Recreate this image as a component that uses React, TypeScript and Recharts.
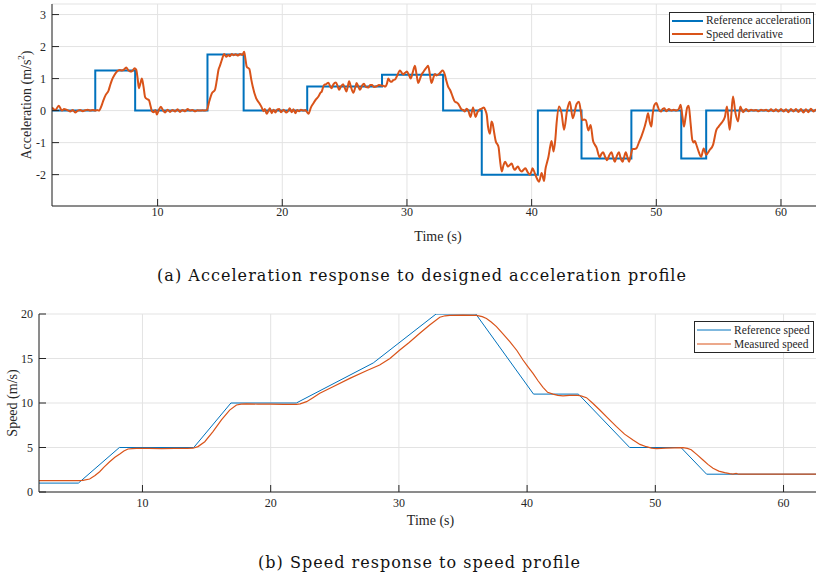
import { LineChart, Line, XAxis, YAxis, CartesianGrid, Legend, Label } from 'recharts';

// axis ticks
const timeTicks = [10, 20, 30, 40, 50, 60];
const accelTicks = [-2, -1, 0, 1, 2, 3];
const speedTicks = [0, 5, 10, 15, 20];

// legend entries, in the order they are listed
const accelSeries = ['Reference acceleration', 'Speed derivative'];
const speedSeries = ['Reference speed', 'Measured speed'];

// reference acceleration, [time s, level m/s^2] at each step change
const referenceAcceleration = [
  [1.53, 0], [5, 1.25], [8.2, 0], [14, 1.75], [16.9, 0], [22, 0.75], [28, 1.12],
  [32.9, 0], [36, -2], [40.5, 0], [44, -1.5], [48, 0], [52, -1.5], [54, 0], [63.45, 0],
];

// measured speed derivative
const speedDerivative = [
  [1.53, 0.1], [1.8, 0.02], [2.07, 0.15], [2.33, 0.0], [2.5, 0.05], [2.67, 0.03], [2.85, 0.0], [2.99, -0.03],
  [3.2, 0.02], [3.39, -0.06], [3.6, 0.0], [3.79, 0.02], [4.0, -0.02], [4.19, 0.01], [4.4, 0.03], [4.6, 0.0],
  [4.8, 0.02], [5.0, 0.0], [5.15, 0.02], [5.3, 0.0], [5.5, 0.15], [5.66, 0.33], [5.85, 0.5], [6.06, 0.62],
  [6.2, 0.8], [6.34, 0.96], [6.55, 1.12], [6.74, 1.22], [6.95, 1.27], [7.14, 1.25], [7.3, 1.28], [7.48, 1.35],
  [7.65, 1.26], [7.8, 1.22], [8.0, 1.25], [8.15, 1.32], [8.28, 1.28], [8.4, 1.0], [8.5, 0.7], [8.62, 0.85],
  [8.74, 1.0], [8.87, 0.75], [9.0, 0.42], [9.15, 0.36], [9.3, 0.33], [9.45, 0.12], [9.55, -0.02], [9.7, -0.05],
  [9.82, 0.02], [9.94, -0.12], [10.1, 0.02], [10.26, 0.12], [10.45, 0.0], [10.6, -0.06], [10.8, 0.03], [11.0, -0.04],
  [11.2, 0.02], [11.4, -0.03], [11.6, 0.04], [11.8, -0.04], [12.0, 0.02], [12.2, -0.02], [12.4, 0.05], [12.6, 0.0],
  [12.8, 0.02], [13.0, -0.02], [13.2, 0.01], [13.4, 0.0], [13.6, 0.01], [13.8, 0.0], [13.95, 0.02], [14.15, 0.3],
  [14.35, 0.54], [14.6, 0.65], [14.75, 0.95], [14.88, 1.27], [15.0, 1.4], [15.15, 1.58], [15.34, 1.77], [15.5, 1.68],
  [15.68, 1.74], [15.8, 1.7], [15.95, 1.77], [16.1, 1.73], [16.25, 1.76], [16.45, 1.72], [16.62, 1.77], [16.8, 1.74],
  [16.94, 1.84], [17.05, 1.6], [17.15, 1.37], [17.36, 1.3], [17.5, 1.0], [17.63, 0.75], [17.9, 0.39], [18.16, 0.23],
  [18.35, 0.1], [18.49, -0.02], [18.6, 0.05], [18.75, -0.1], [18.9, 0.0], [19.0, 0.07], [19.15, -0.08], [19.3, 0.03],
  [19.45, -0.06], [19.6, 0.04], [19.75, 0.05], [19.9, -0.05], [20.1, 0.03], [20.3, -0.06], [20.45, -0.02], [20.6, 0.07],
  [20.75, -0.05], [20.9, 0.04], [21.05, -0.08], [21.2, 0.02], [21.35, -0.02], [21.5, 0.03], [21.7, 0.0], [21.85, 0.02],
  [21.96, -0.03], [22.1, -0.1], [22.3, 0.1], [22.5, 0.23], [22.7, 0.35], [22.9, 0.44], [23.05, 0.55], [23.17, 0.6],
  [23.35, 0.8], [23.5, 0.82], [23.7, 0.87], [23.85, 0.75], [23.95, 0.7], [24.1, 0.82], [24.3, 0.88], [24.45, 0.75],
  [24.56, 0.65], [24.7, 0.75], [24.88, 0.82], [25.0, 0.72], [25.15, 0.6], [25.25, 0.75], [25.36, 0.92], [25.5, 0.75],
  [25.7, 0.56], [25.85, 0.72], [25.96, 0.86], [26.1, 0.75], [26.23, 0.65], [26.4, 0.78], [26.55, 0.84], [26.7, 0.74],
  [26.9, 0.72], [27.05, 0.8], [27.2, 0.8], [27.35, 0.74], [27.57, 0.76], [27.75, 0.8], [27.97, 0.78], [28.1, 0.78],
  [28.24, 0.75], [28.4, 0.85], [28.5, 1.0], [28.65, 0.92], [28.77, 0.9], [28.9, 0.95], [29.04, 0.97], [29.2, 1.08],
  [29.44, 1.25], [29.58, 1.18], [29.7, 1.13], [29.85, 1.18], [30.0, 1.22], [30.15, 1.12], [30.3, 1.0], [30.47, 1.2],
  [30.64, 1.4], [30.78, 1.1], [30.9, 0.86], [31.05, 1.0], [31.17, 1.12], [31.3, 1.2], [31.44, 1.28], [31.58, 1.35],
  [31.7, 1.4], [31.85, 1.1], [31.97, 0.86], [32.1, 1.0], [32.24, 1.14], [32.38, 1.1], [32.5, 1.12], [32.7, 1.2],
  [32.86, 1.25], [33.04, 1.12], [33.15, 0.95], [33.3, 0.75], [33.45, 0.65], [33.57, 0.54], [33.7, 0.4], [33.84, 0.28],
  [34.0, 0.25], [34.1, 0.22], [34.25, 0.12], [34.37, 0.04], [34.5, 0.02], [34.64, -0.03], [34.78, 0.06], [34.9, 0.02],
  [35.1, -0.2], [35.3, 0.1], [35.5, -0.2], [35.65, -0.05], [35.85, 0.04], [36.0, 0.06], [36.17, 0.1], [36.3, 0.0],
  [36.4, -0.13], [36.5, -0.5], [36.66, -0.72], [36.78, -0.34], [36.87, -0.4], [37.0, -0.7], [37.13, -0.97], [37.25, -1.05],
  [37.35, -1.15], [37.45, -1.5], [37.6, -1.9], [37.75, -1.7], [37.87, -1.6], [38.0, -1.68], [38.1, -1.75], [38.25, -1.7],
  [38.4, -1.65], [38.55, -1.8], [38.65, -1.85], [38.8, -1.78], [38.9, -1.75], [39.05, -1.85], [39.2, -1.9], [39.35, -1.85],
  [39.5, -1.8], [39.65, -1.9], [39.86, -2.0], [40.0, -1.88], [40.07, -1.8], [40.25, -1.95], [40.4, -2.1], [40.6, -2.22],
  [40.8, -1.95], [41.0, -2.2], [41.1, -1.85], [41.25, -1.6], [41.35, -1.44], [41.5, -1.1], [41.6, -0.95], [41.76, -1.28],
  [41.9, -0.9], [42.0, -0.4], [42.2, 0.13], [42.4, -0.08], [42.6, -0.6], [42.85, 0.02], [43.06, 0.28], [43.3, -0.24],
  [43.6, 0.2], [43.8, 0.28], [44.07, -0.3], [44.2, -0.28], [44.35, -0.3], [44.55, -0.62], [44.73, -0.45], [44.93, -0.95],
  [45.05, -1.05], [45.2, -1.15], [45.46, -1.46], [45.6, -1.35], [45.73, -1.3], [45.9, -1.45], [46.05, -1.55], [46.22, -1.4],
  [46.4, -1.3], [46.55, -1.48], [46.67, -1.6], [46.85, -1.4], [47.0, -1.3], [47.15, -1.5], [47.3, -1.6], [47.42, -1.45],
  [47.55, -1.3], [47.7, -1.48], [47.82, -1.6], [47.95, -1.4], [48.1, -1.2], [48.25, -1.2], [48.4, -1.18], [48.6, -1.0],
  [48.8, -0.81], [49.07, -0.5], [49.2, -0.3], [49.34, -0.08], [49.47, -0.35], [49.6, -0.5], [49.7, -0.15], [49.82, 0.15],
  [50.0, 0.24], [50.1, 0.15], [50.25, 0.0], [50.4, -0.03], [50.5, 0.05], [50.65, 0.07], [50.8, -0.02], [51.0, 0.05],
  [51.2, 0.0], [51.4, 0.03], [51.6, 0.0], [51.8, 0.05], [51.95, 0.18], [52.1, -0.2], [52.22, -0.5], [52.35, -0.2],
  [52.48, 0.1], [52.6, 0.15], [52.75, -0.4], [52.89, -0.92], [53.0, -1.0], [53.1, -0.95], [53.2, -1.05], [53.35, -1.23],
  [53.6, -1.44], [53.8, -1.18], [54.0, -1.38], [54.28, -1.23], [54.55, -1.07], [54.82, -0.6], [55.0, -0.5], [55.2, -0.4],
  [55.5, -0.2], [55.67, 0.13], [55.88, -0.6], [56.0, -0.2], [56.15, 0.44], [56.35, -0.08], [56.55, -0.34], [56.74, 0.13],
  [56.95, -0.05], [57.2, 0.05], [57.4, -0.02], [57.6, 0.03], [57.8, 0.0], [58.0, 0.02], [58.2, -0.02], [58.4, 0.03],
  [58.6, 0.0], [58.8, 0.03], [59.0, -0.02], [59.2, 0.04], [59.4, -0.02], [59.6, 0.04], [59.8, -0.03], [60.0, 0.05],
  [60.2, -0.03], [60.4, 0.04], [60.6, -0.05], [60.8, 0.05], [61.0, -0.03], [61.2, 0.05], [61.4, -0.04], [61.6, 0.05],
  [61.8, -0.06], [62.0, 0.04], [62.2, -0.05], [62.4, 0.06], [62.6, -0.03], [62.8, 0.03], [63.0, -0.02], [63.4, 0.0],
];

// reference speed profile, [time s, speed m/s] at the corners
const referenceSpeed = [
  [1.93, 1], [5, 1], [8.2, 5], [14, 5], [16.9, 10], [22, 10], [28, 14.5], [32.9, 20],
  [36, 20], [40.5, 11], [44, 11], [48, 5], [52, 5], [54, 2], [63, 2],
];

// measured speed
const measuredSpeed = [
  [1.93, 1.27], [3, 1.27], [4, 1.27], [5, 1.27], [5.36, 1.3], [5.88, 1.46], [6.3, 1.85], [6.66, 2.28],
  [7.0, 2.8], [7.44, 3.4], [7.85, 3.9], [8.23, 4.27], [8.55, 4.6], [8.87, 4.83], [9.2, 4.88], [9.52, 4.9],
  [10.5, 4.9], [11.5, 4.88], [12.5, 4.9], [13.5, 4.9], [13.94, 4.92], [14.33, 5.1], [14.86, 5.65], [15.5, 6.78],
  [16.16, 8.1], [16.8, 9.2], [17.33, 9.78], [17.7, 9.88], [18.1, 9.9], [19, 9.88], [20, 9.87], [21, 9.85],
  [22, 9.85], [22.3, 9.9], [22.8, 10.15], [23.3, 10.6], [23.83, 11.09], [24.86, 11.83], [26.17, 12.77], [27.47, 13.63],
  [28.5, 14.27], [29.3, 15.0], [30.07, 15.96], [30.8, 16.8], [31.63, 17.83], [32.4, 18.76], [33.19, 19.63], [33.6, 19.8],
  [33.97, 19.85], [35, 19.88], [36.05, 19.85], [36.5, 19.7], [36.83, 19.5], [37.2, 19.1], [37.61, 18.58], [38.1, 17.8],
  [38.65, 16.89], [39.2, 15.9], [39.68, 14.83], [40.1, 14.0], [40.46, 13.33], [40.85, 12.5], [41.24, 11.76], [41.6, 11.2],
  [42.02, 11.0], [42.4, 10.85], [42.8, 10.8], [43.3, 10.85], [43.85, 10.87], [44.2, 10.8], [44.63, 10.6], [45.1, 10.0],
  [45.67, 9.21], [46.3, 8.3], [46.97, 7.34], [47.6, 6.5], [48.26, 5.84], [48.8, 5.35], [49.3, 5.09], [49.7, 4.93],
  [50.1, 4.88], [50.8, 4.92], [51.5, 4.95], [52.17, 4.99], [52.5, 4.9], [52.8, 4.75], [53.25, 4.2], [53.72, 3.6],
  [54.1, 3.1], [54.5, 2.66], [54.95, 2.35], [55.41, 2.17], [55.8, 2.06], [56.06, 2.02], [56.3, 2.1], [56.5, 2.0],
  [57, 2.0], [58, 2.0], [59, 2.01], [60, 2.0], [61, 2.0], [62, 2.0], [63, 2.0],
];

const BLUE = '#0072BD';
const ORANGE = '#D95319';
const AXIS = '#262626';
const GRID = '#e3e3e3';
const FONT = '"Liberation Serif", "Times New Roman", serif';
const CAPTION_FONT = '"DejaVu Serif", serif';

const rows = (pairs: number[][], key: string) => pairs.map(([t, v]) => ({ t, [key]: v }));

const tickStyle = { fill: AXIS, fontSize: 12, fontFamily: FONT };

const BoxLegend = ({ payload, order, lineWidth, swatch, rowHeight }: any) => {
  const items = [...(payload || [])].sort((a: any, b: any) => order.indexOf(a.value) - order.indexOf(b.value));
  return (
    <div
      style={{
        border: `1px solid ${AXIS}`,
        background: '#fff',
        padding: '1px 2px',
        boxSizing: 'border-box',
        fontFamily: FONT,
        fontSize: 11.5,
        color: AXIS,
        lineHeight: `${rowHeight}px`,
      }}
    >
      {items.map((p: any) => (
        <div key={p.value} style={{ display: 'flex', alignItems: 'center', whiteSpace: 'nowrap', height: rowHeight }}>
          <svg width={swatch} height={6} style={{ marginRight: 3, flex: 'none' }}>
            <line x1={0} y1={3} x2={swatch} y2={3} stroke={p.color} strokeWidth={lineWidth} />
          </svg>
          <span>{p.value}</span>
        </div>
      ))}
    </div>
  );
};

const YTitle = ({ viewBox, dx, children }: any) => {
  const x = viewBox.x + dx;
  const y = viewBox.y + viewBox.height / 2;
  return (
    <text
      x={x}
      y={y}
      transform={`rotate(-90 ${x} ${y})`}
      textAnchor="middle"
      dominantBaseline="central"
      fill={AXIS}
      fontSize={14}
      fontFamily={FONT}
    >
      {children}
    </text>
  );
};

const AccelerationChart = () => (
  <LineChart width={830} height={250} margin={{ top: 4, right: 6, bottom: 0, left: 0 }}>
    <CartesianGrid stroke={GRID} strokeWidth={1} />
    <XAxis
      dataKey="t"
      type="number"
      domain={[1.53, 63.45]}
      allowDataOverflow
      ticks={timeTicks}
      interval={0}
      height={44}
      tickSize={-7}
      tickMargin={8}
      stroke={AXIS}
      tick={tickStyle}
    >
      <Label value="Time (s)" position="insideBottom" offset={9} fill={AXIS} fontSize={14} fontFamily={FONT} />
    </XAxis>
    <XAxis
      xAxisId="top"
      orientation="top"
      dataKey="t"
      type="number"
      domain={[1.53, 63.45]}
      allowDataOverflow
      ticks={timeTicks}
      interval={0}
      height={0}
      tickSize={-7}
      tick={false}
      stroke={AXIS}
    />
    <YAxis
      type="number"
      domain={[-2.98, 3.33]}
      allowDataOverflow
      ticks={accelTicks}
      interval={0}
      width={52}
      tickSize={-7}
      tickMargin={13}
      stroke={AXIS}
      tick={tickStyle}
      label={{
        content: (p: any) => (
          <YTitle viewBox={p.viewBox} dx={26}>
            Acceleration (m/s<tspan dy={-5} fontSize={9}>2</tspan>
            <tspan dy={5}>)</tspan>
          </YTitle>
        ),
      }}
    />
    <Legend
      layout="vertical"
      align="center"
      verticalAlign="middle"
      wrapperStyle={{ left: 669, top: 12, width: 145, height: 31 }}
      content={(p: any) => (
        <BoxLegend payload={p.payload} order={accelSeries} lineWidth={2} swatch={31} rowHeight={13.5} />
      )}
    />
    <Line
      data={rows(referenceAcceleration, 'a')}
      dataKey="a"
      name={accelSeries[0]}
      type="stepAfter"
      stroke={BLUE}
      strokeWidth={2}
      dot={false}
      activeDot={false}
      isAnimationActive={false}
    />
    <Line
      data={rows(speedDerivative, 'a')}
      dataKey="a"
      name={accelSeries[1]}
      type="monotone"
      stroke={ORANGE}
      strokeWidth={2}
      strokeLinejoin="round"
      dot={false}
      activeDot={false}
      isAnimationActive={false}
    />
  </LineChart>
);

const SpeedChart = () => (
  <LineChart width={828} height={230} margin={{ top: 14, right: 6, bottom: 0, left: 0 }}>
    <CartesianGrid stroke={GRID} strokeWidth={1} />
    <XAxis
      dataKey="t"
      type="number"
      domain={[1.93, 63]}
      allowDataOverflow
      ticks={timeTicks}
      interval={0}
      height={38}
      tickSize={-7}
      tickMargin={13}
      stroke={AXIS}
      tick={tickStyle}
    >
      <Label value="Time (s)" position="insideBottom" offset={5} fill={AXIS} fontSize={14} fontFamily={FONT} />
    </XAxis>
    <XAxis
      xAxisId="top"
      orientation="top"
      dataKey="t"
      type="number"
      domain={[1.93, 63]}
      allowDataOverflow
      ticks={timeTicks}
      interval={0}
      height={0}
      tickSize={-7}
      tick={false}
      stroke={AXIS}
    />
    <YAxis
      type="number"
      domain={[0, 20]}
      allowDataOverflow
      ticks={speedTicks}
      interval={0}
      width={39}
      tickSize={-7}
      tickMargin={13}
      stroke={AXIS}
      tick={tickStyle}
      label={{
        content: (p: any) => (
          <YTitle viewBox={p.viewBox} dx={12}>
            Speed (m/s)
          </YTitle>
        ),
      }}
    />
    <Legend
      layout="vertical"
      align="center"
      verticalAlign="middle"
      wrapperStyle={{ left: 694, top: 21, width: 120, height: 32 }}
      content={(p: any) => (
        <BoxLegend payload={p.payload} order={speedSeries} lineWidth={1} swatch={34} rowHeight={14} />
      )}
    />
    <Line
      data={rows(referenceSpeed, 'v')}
      dataKey="v"
      name={speedSeries[0]}
      type="linear"
      stroke={BLUE}
      strokeWidth={1}
      dot={false}
      activeDot={false}
      isAnimationActive={false}
    />
    <Line
      data={rows(measuredSpeed, 'v')}
      dataKey="v"
      name={speedSeries[1]}
      type="linear"
      stroke={ORANGE}
      strokeWidth={1.2}
      dot={false}
      activeDot={false}
      isAnimationActive={false}
    />
  </LineChart>
);

export default function App() {
  return (
    <div
      style={{
        position: 'absolute',
        left: 0,
        top: 0,
        width: 816,
        height: 579,
        overflow: 'hidden',
        background: '#fff',
      }}
    >
      <div style={{ position: 'absolute', left: 0, top: 0 }}>
        <AccelerationChart />
      </div>
      <div style={{ position: 'absolute', left: 0, top: 300 }}>
        <SpeedChart />
      </div>
      <svg width={816} height={579} style={{ position: 'absolute', left: 0, top: 0, pointerEvents: 'none' }}>
        <text x={157} y={281} textLength={529} lengthAdjust="spacing" fontSize={16} fontFamily={CAPTION_FONT} fill="#111">
          (a) Acceleration response to designed acceleration profile
        </text>
        <text x={258} y={568} textLength={322} lengthAdjust="spacing" fontSize={16} fontFamily={CAPTION_FONT} fill="#111">
          (b) Speed response to speed profile
        </text>
      </svg>
    </div>
  );
}
